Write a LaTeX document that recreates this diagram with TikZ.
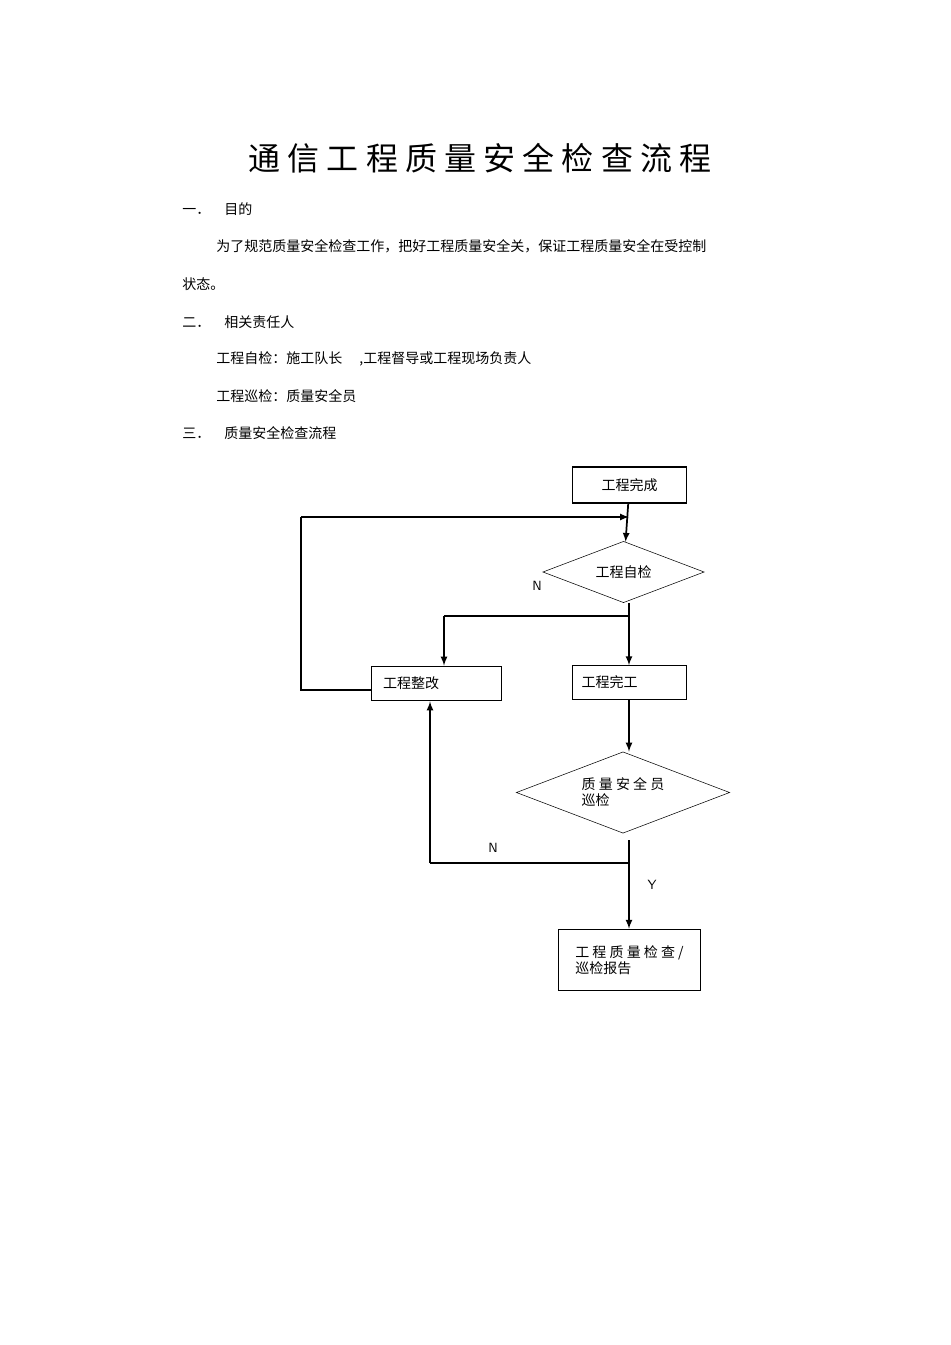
\documentclass[tikz,border=0pt]{standalone}
\usepackage{fontspec}
\setmainfont{Liberation Serif}
\newfontfamily\cjk{Noto Sans CJK SC}
\usetikzlibrary{shapes.geometric,arrows}
\tikzset{>=latex}
\tikzset{
  txt/.style={anchor=west,font=\cjk\fontsize{10.5}{12}\selectfont,inner sep=0pt},
  box/.style={draw,line width=0.9pt,font=\cjk\fontsize{10.5}{12}\selectfont},
  dia/.style={draw,diamond,aspect=2.6,inner sep=0pt,font=\cjk\fontsize{10.5}{12}\selectfont},
  flow/.style={->,line width=1.3pt},
  lbl/.style={font=\sffamily\fontsize{10}{12}\selectfont}
}
\begin{document}
\begin{tikzpicture}[x=0.75pt,y=-0.75pt]
	\useasboundingbox[fill=white] (0,0) rectangle (950,1345);

	% Titel
	\node[font=\cjk\fontsize{24}{28}\selectfont] (title) at (480,158) {通\ 信\ 工\ 程\ 质\ 量\ 安\ 全\ 检\ 查\ 流\ 程};

	% Text
	\node[txt] (s1) at (182,209) {一．\quad 目的};
	\node[txt] (p1) at (216,246) {为了规范质量安全检查工作，把好工程质量安全关，保证工程质量安全在受控制};
	\node[txt] (p2) at (182,284) {状态。};
	\node[txt] (s2) at (182,322) {二．\quad 相关责任人};
	\node[txt] (p3) at (216,359) {工程自检：施工队长\quad\ ,工程督导或工程现场负责人};
	\node[txt] (p4) at (216,396) {工程巡检：质量安全员};
	\node[txt] (s3) at (182,433) {三．\quad 质量安全检查流程};

	% Blocchi
	\node[box,minimum width=86pt,minimum height=27pt] (done) at (629.5,485) {工程完成};
	\node[dia,minimum width=121pt,minimum height=46pt] (self) at (623.5,572) {工程自检};
	\node[box,minimum width=97pt,minimum height=26pt,text width=80pt] (fix) at (436.5,683.5) {工程整改};
	\node[box,minimum width=86pt,minimum height=25pt,text width=72pt] (fin) at (629.5,682.5) {工程完工};
	\node[dia,minimum width=160pt,minimum height=61pt,align=left] (insp) at (623,792.5) {质\ 量\ 安\ 全\ 员\\巡检};
	\node[box,minimum width=107pt,minimum height=46pt,align=left] (rep) at (629.5,960) {工\ 程\ 质\ 量\ 检\ 查\ /\\巡检报告};

	\coordinate (top) at (629,517);
	\coordinate (loopA) at (301,690);
	\coordinate (loopB) at (301,517);
	\coordinate (split) at (629,616);
	\coordinate (splitL) at (444,616);
	\coordinate (back) at (629,863);
	\coordinate (backL) at (430,863);
	\coordinate (mid) at (629,840);

	% Frecce
	\draw[flow] (done) -- (self);
	\draw[line width=0.9pt] (fix.west |- loopA) -- (loopA) -- (loopB);
	\draw[flow] (loopB) -- (top);
	\draw[line width=1.3pt] (self.south -| split) -- (split) -- (splitL);
	\draw[flow] (splitL) -- (splitL |- fix.north);
	\draw[flow] (split) -- (fin.north -| split);
	\draw[flow] (fin.south -| split) -- (insp.north -| split);
	\draw[flow] (mid) -- (rep.north -| mid);
	\draw[line width=1.3pt] (back) -- (backL);
	\draw[flow] (backL) -- (backL |- fix.south);

	%% Etichette
	\node[lbl] (n1) at (537,586) {N};
	\node[lbl] (n2) at (493,848) {N};
	\node[lbl] (y1) at (652,885) {Y};
\end{tikzpicture}
\end{document}
